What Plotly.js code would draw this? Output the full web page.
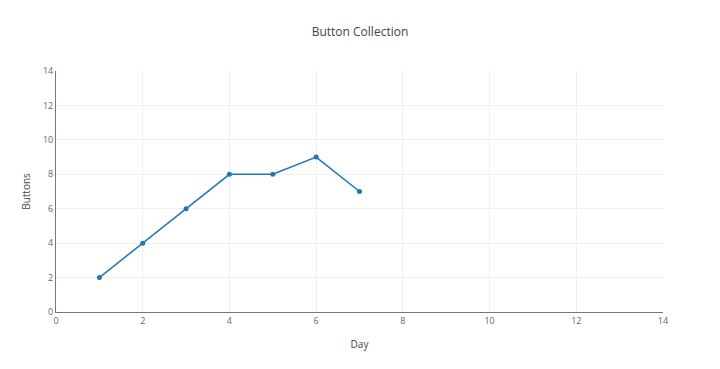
<!DOCTYPE html>
<html><head><meta charset="utf-8">
<script src="https://cdn.plot.ly/plotly-3.0.1.min.js"></script>
<style>html,body{margin:0;padding:0;background:#fff}</style>
</head><body>
<div id="chart" style="width:720px;height:369px"></div>
<script>
const days = [1, 2, 3, 4, 5, 6, 7];
const buttons = [2, 4, 6, 8, 8, 9, 7];

Plotly.newPlot('chart', [{
  x: days, y: buttons, type: 'scatter', mode: 'lines+markers',
  line: {color: '#1f77b4', width: 1.5},
  marker: {color: '#1f77b4', size: 5}
}], {
  width: 720, height: 369,
  title: {text: 'Button Collection', font: {family: 'Open Sans', size: 12, color: '#444'}, y: 0.925},
  font: {family: 'Open Sans', size: 9, color: '#666'},
  margin: {l: 56, r: 57, t: 71, b: 57},
  xaxis: {range: [0, 14], dtick: 2, showline: true, linecolor: '#777', zeroline: false, gridcolor: '#f0f0f0',
    title: {text: 'Day', font: {size: 10, color: '#444'}, standoff: 15}},
  yaxis: {range: [0, 14], dtick: 2, showline: true, linecolor: '#777', zeroline: false, gridcolor: '#f0f0f0',
    title: {text: 'Buttons', font: {size: 10, color: '#444'}, standoff: 10}},
  showlegend: false,
  plot_bgcolor: '#fff', paper_bgcolor: '#fff'
}, {displayModeBar: false});
</script>
</body></html>
